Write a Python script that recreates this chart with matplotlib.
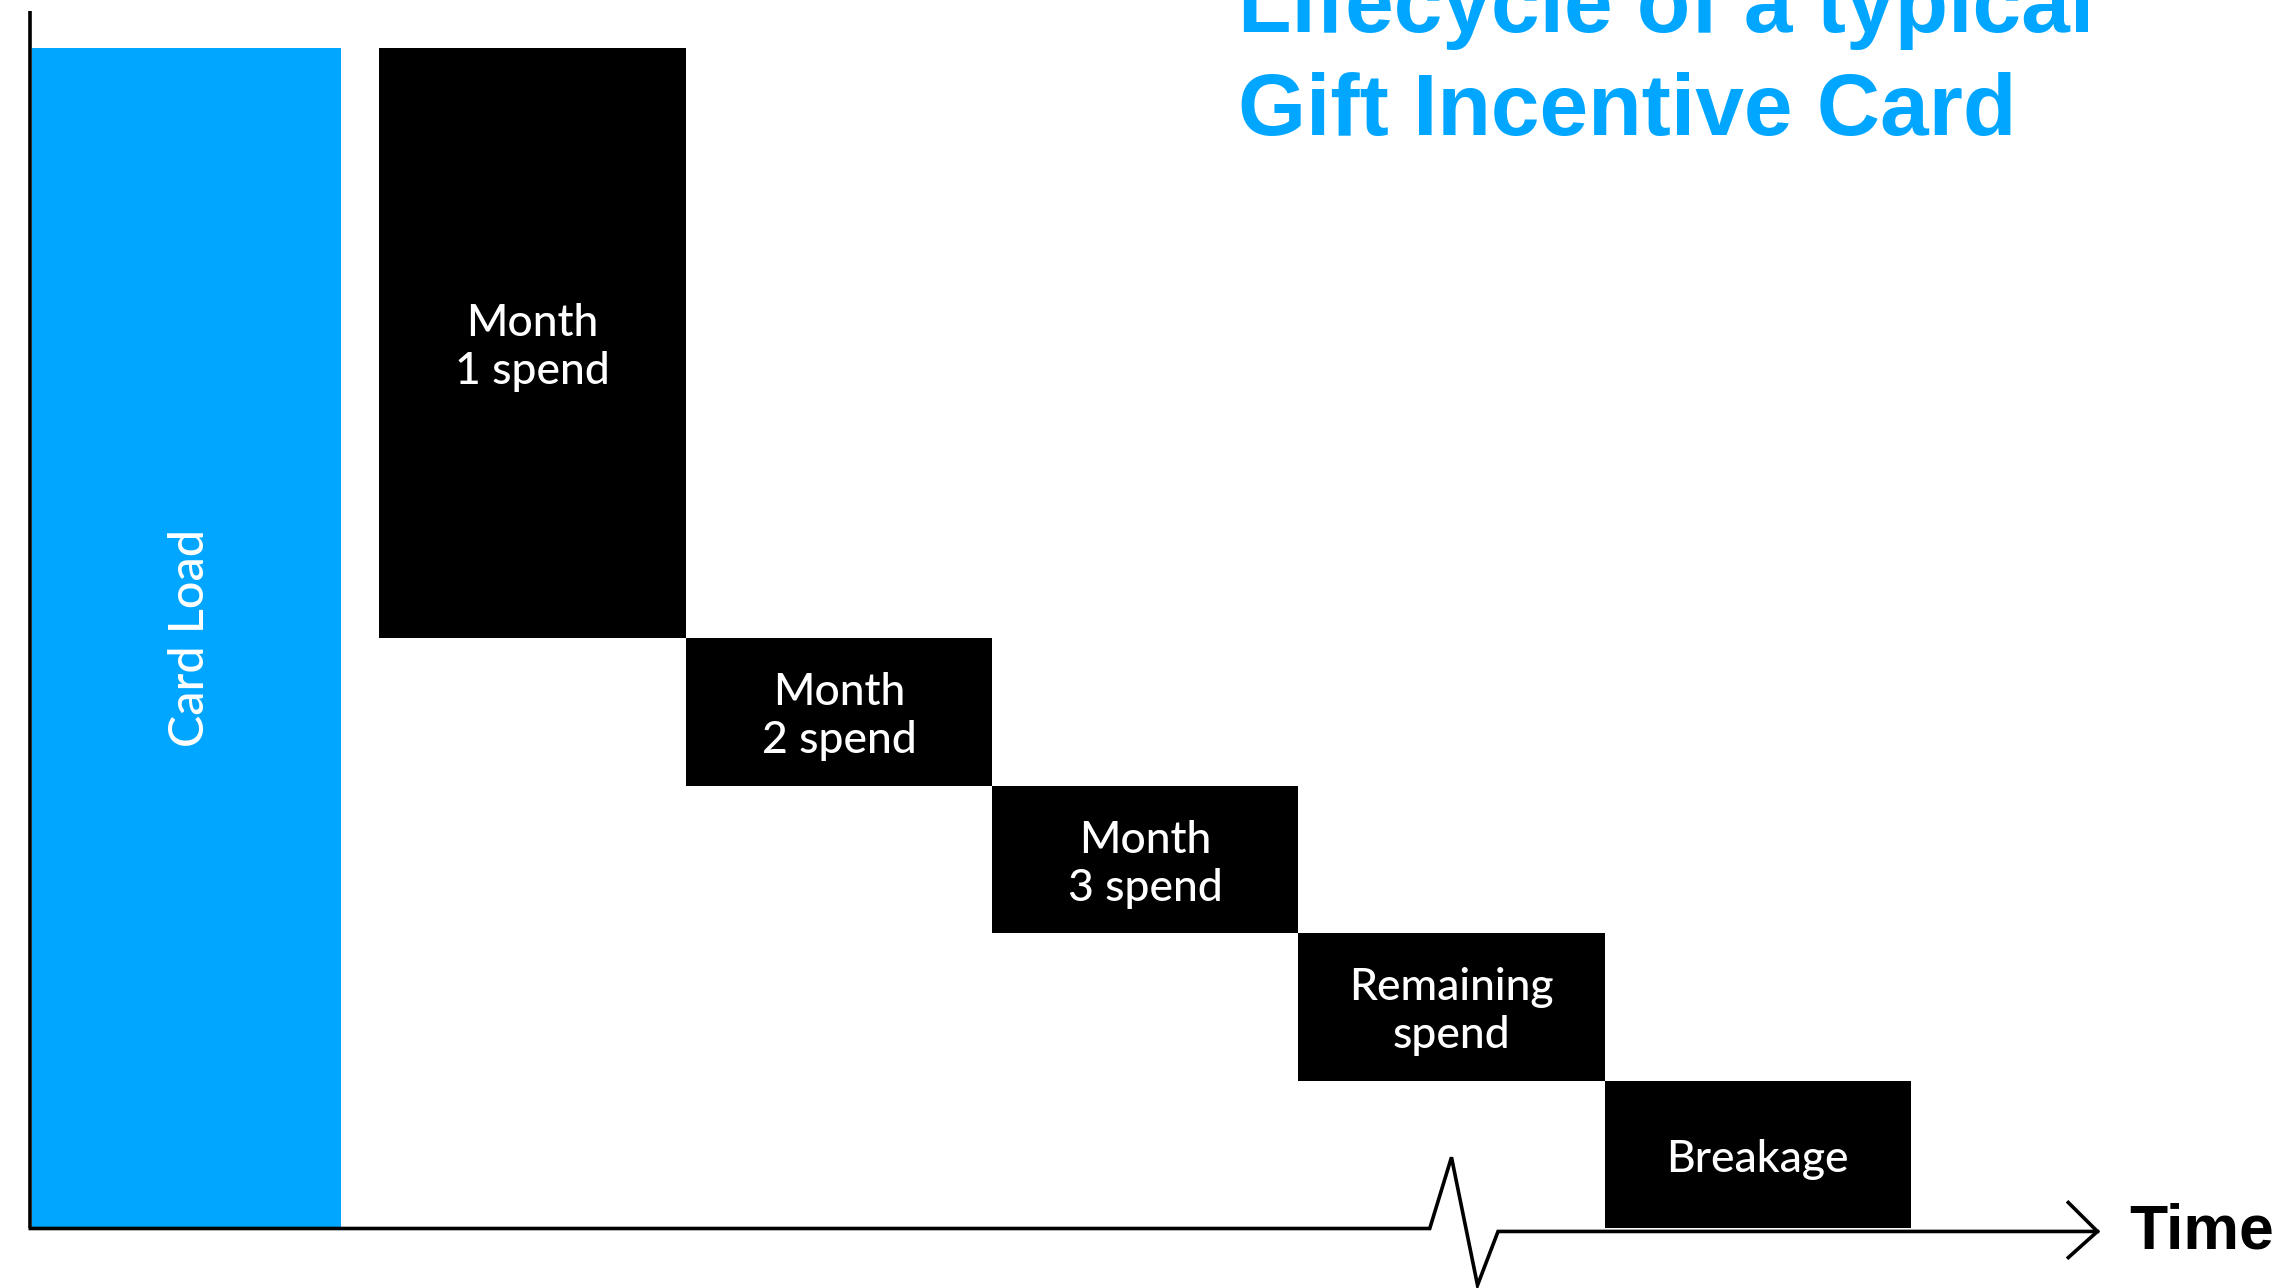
import matplotlib
matplotlib.use("Agg")
import matplotlib.pyplot as plt

# ---- data ----
categories = ["Card Load", "Month\n1 spend", "Month\n2 spend", "Month\n3 spend",
              "Remaining\nspend", "Breakage"]
values = [100, 50, 12.5, 12.5, 12.5, 12.5]
title_lines = ["Lifecycle of a typical", "Gift Incentive Card"]
axis_label = "Time"

BLUE = "#00A6FF"
BLACK = "#000000"

# waterfall bottoms: spend steps come off the remaining balance
bottoms = [0]
remaining = values[0]
for v in values[1:-1]:
    remaining -= v
    bottoms.append(remaining)
bottoms.append(0)

xpos = [0.005] + [1.135 + i for i in range(len(values) - 1)]
widths = [1.01] + [1.0] * (len(values) - 1)
colors = [BLUE] + [BLACK] * (len(values) - 1)

fig = plt.figure(figsize=(22.76, 12.88), dpi=100)
ax = fig.add_axes([0, 0, 1, 1])
ax.set_xlim(-0.604, 6.827)
ax.set_ylim(-5.04, 104.06)
ax.axis("off")

ax.bar(xpos, values, bottom=bottoms, width=widths, color=colors, linewidth=0, zorder=2)

lbl_font = dict(family=["Lato", "DejaVu Sans"], color="white",
                ha="center", va="center", linespacing=1.22, fontweight="medium")
for x, v, b, c in zip(xpos, values, bottoms, categories):
    if c == "Card Load":
        ax.text(x + 0.01, b + v / 2, c, rotation=90, zorder=3, fontsize=35, **lbl_font)
    else:
        ax.text(x, b + v / 2 - 0.4, c, zorder=3, fontsize=32, **lbl_font)

# axes lines
lw = 2.6
ax.plot([-0.505, -0.505], [0, 103.1], color=BLACK, lw=lw, solid_capstyle="butt", zorder=4)
ax.plot([-0.505, 4.064, 4.135, 4.220, 4.287, 6.244],
        [0, 0, 6.03, -4.8, -0.25, -0.25], color=BLACK, lw=lw,
        solid_joinstyle="miter", zorder=4)
# arrow head
ax.plot([6.149, 6.244, 6.149], [2.2, -0.25, -2.46], color=BLACK, lw=lw,
        solid_joinstyle="miter", zorder=4)

fig.text(0.9356, 0.0304, axis_label, fontsize=45, fontweight="bold",
         family=["Liberation Sans", "DejaVu Sans"], color=BLACK,
         ha="left", va="baseline")

fig.text(0.544, 0.975, title_lines[0], fontsize=63, fontweight="bold",
         family=["Liberation Sans", "DejaVu Sans"], color=BLUE,
         ha="left", va="baseline")
fig.text(0.544, 0.895, title_lines[1], fontsize=63, fontweight="bold",
         family=["Liberation Sans", "DejaVu Sans"], color=BLUE,
         ha="left", va="baseline")

fig.savefig("out.png", dpi=100)
